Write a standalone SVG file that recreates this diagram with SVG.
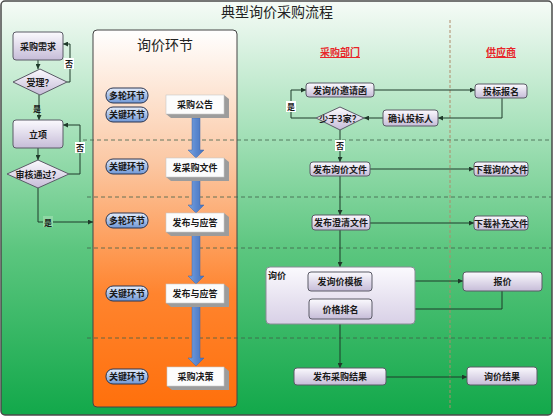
<svg xmlns="http://www.w3.org/2000/svg" width="554" height="418" viewBox="0 0 554 418">
<defs>
  <linearGradient id="bg" x1="0" y1="0" x2="0" y2="1">
    <stop offset="0" stop-color="#f6fbf7"/>
    <stop offset="0.3" stop-color="#a9e2bc"/>
    <stop offset="0.6" stop-color="#5cc67f"/>
    <stop offset="1" stop-color="#12a84a"/>
  </linearGradient>
  <linearGradient id="og" x1="0" y1="0" x2="0" y2="1">
    <stop offset="0" stop-color="#ffffff"/>
    <stop offset="0.35" stop-color="#fbc8a4"/>
    <stop offset="0.7" stop-color="#ff842e"/>
    <stop offset="1" stop-color="#ff700c"/>
  </linearGradient>
  <linearGradient id="pg" x1="0" y1="0" x2="0" y2="1">
    <stop offset="0" stop-color="#fbfafe"/>
    <stop offset="1" stop-color="#c6bcd8"/>
  </linearGradient>
  <linearGradient id="gg" x1="0" y1="0" x2="0" y2="1">
    <stop offset="0" stop-color="#fbfafe"/>
    <stop offset="1" stop-color="#d8d0e6"/>
  </linearGradient>
  <linearGradient id="bl" x1="0" y1="0" x2="0" y2="1">
    <stop offset="0" stop-color="#e4ecfa"/>
    <stop offset="1" stop-color="#6f97d6"/>
  </linearGradient>
  <linearGradient id="ba" x1="0" y1="0" x2="1" y2="0">
    <stop offset="0" stop-color="#7aa4e0"/>
    <stop offset="0.5" stop-color="#5b88cf"/>
    <stop offset="1" stop-color="#4672bd"/>
  </linearGradient>
  <marker id="ar" viewBox="0 0 6 6" refX="6" refY="3" markerWidth="5" markerHeight="5" orient="auto">
    <path d="M0,0 L6,3 L0,6 z" fill="#1f3a2a"/>
  </marker>
  <style>
    .node rect, .node polygon.d { fill: url(#pg); stroke: #5a5a66; stroke-width: 1; }
    .t { font-family: "Noto Sans CJK SC", "Liberation Sans", sans-serif; font-weight: bold; font-size: 9px; fill: #1a1a1a; text-anchor: middle; dominant-baseline: central; }
    .pill rect { fill: url(#bl); stroke: #2a3550; stroke-width: 1; }
    .box3 .f { fill: #fcfcfc; stroke: #c8c8c8; stroke-width: 0.6; }
    .box3 .s { fill: #9c9c9c; }
    .c { fill: none; stroke: #1f3a2a; stroke-width: 1; }
    .ca { fill: none; stroke: #1f3a2a; stroke-width: 1; marker-end: url(#ar); }
    .dash { stroke: #3f5f4a; stroke-width: 0.8; stroke-dasharray: 4 3; }
    .lbl { font-family: "Noto Sans CJK SC", sans-serif; font-weight: bold; font-size: 8px; fill: #1a1a1a; text-anchor: middle; dominant-baseline: central; }
    .hd { font-family: "Noto Sans CJK SC", sans-serif; font-weight: bold; font-size: 10px; fill: #e8262a; text-anchor: middle; text-decoration: underline; }
  </style>
</defs>

<rect x="1" y="1" width="551" height="414" rx="4" fill="url(#bg)" stroke="#4a4a4a" stroke-width="1.5"/>
<text x="277" y="17" font-family="Noto Sans CJK SC, serif" font-size="14" fill="#222" text-anchor="middle">典型询价采购流程</text>

<!-- orange section -->
<g id="section-inquiry">
  <rect x="93" y="30" width="144" height="377" rx="4" fill="url(#og)" stroke="#444" stroke-width="1"/>
  <text x="165" y="50" font-family="Noto Sans CJK SC, sans-serif" font-size="14" fill="#222" text-anchor="middle">询价环节</text>
</g>

<!-- dashed lines -->
<g id="lanes">
  <line class="dash" x1="83" y1="140" x2="552" y2="140"/>
  <line class="dash" x1="87" y1="197" x2="552" y2="197"/>
  <line class="dash" x1="87" y1="248" x2="552" y2="248"/>
  <line class="dash" x1="87" y1="338" x2="552" y2="338"/>
  <line x1="450" y1="20" x2="450" y2="410" stroke="#b08a6a" stroke-width="1" stroke-dasharray="3 2"/>
  <text class="hd" x="340" y="56">采购部门</text>
  <text class="hd" x="501" y="56">供应商</text>
</g>

<!-- blue arrows -->
<g id="flow-arrows" fill="url(#ba)" stroke="#3e66a8" stroke-width="0.5">
  <path d="M192,118 L200,118 L200,150 L204,150 L196,158 L188,150 L192,150 z"/>
  <path d="M192,177 L200,177 L200,205 L204,205 L196,213 L188,205 L192,205 z"/>
  <path d="M192,232 L200,232 L200,276 L204,276 L196,284 L188,276 L192,276 z"/>
  <path d="M192,303 L200,303 L200,358 L204,358 L196,366 L188,358 L192,358 z"/>
</g>

<!-- pills -->
<g id="pill1" class="pill"><rect x="106" y="88" width="42" height="15" rx="7"/><text class="t" x="127" y="95.5" font-size="8.5">多轮环节</text></g>
<g id="pill2" class="pill"><rect x="106" y="107" width="42" height="15" rx="7"/><text class="t" x="127" y="114.5" font-size="8.5">关键环节</text></g>
<g id="pill3" class="pill"><rect x="106" y="159" width="42" height="15" rx="7"/><text class="t" x="127" y="166.5" font-size="8.5">关键环节</text></g>
<g id="pill4" class="pill"><rect x="106" y="213" width="42" height="15" rx="7"/><text class="t" x="127" y="220.5" font-size="8.5">多轮环节</text></g>
<g id="pill5" class="pill"><rect x="106" y="286" width="42" height="15" rx="7"/><text class="t" x="127" y="293.5" font-size="8.5">关键环节</text></g>
<g id="pill6" class="pill"><rect x="106" y="369" width="42" height="15" rx="7"/><text class="t" x="127" y="376.5" font-size="8.5">关键环节</text></g>

<!-- 3D boxes -->
<g id="b-announce" class="box3"><path class="s" d="M224,95 L229,99 L229,118 L171,118 L166,114 L224,114 z"/><rect class="f" x="166" y="95" width="58" height="19"/><text class="t" x="195" y="104.5" font-weight="normal">采购公告</text></g>
<g id="b-docs" class="box3"><path class="s" d="M224,158 L229,162 L229,181 L171,181 L166,177 L224,177 z"/><rect class="f" x="166" y="158" width="58" height="19"/><text class="t" x="195" y="167.5" font-weight="normal">发采购文件</text></g>
<g id="b-resp1" class="box3"><path class="s" d="M224,213 L229,217 L229,236 L171,236 L166,232 L224,232 z"/><rect class="f" x="166" y="213" width="58" height="19"/><text class="t" x="195" y="222.5" font-weight="normal">发布与应答</text></g>
<g id="b-resp2" class="box3"><path class="s" d="M224,284 L229,288 L229,307 L171,307 L166,303 L224,303 z"/><rect class="f" x="166" y="284" width="58" height="19"/><text class="t" x="195" y="293.5" font-weight="normal">发布与应答</text></g>
<g id="b-decide" class="box3"><path class="s" d="M224,367 L229,371 L229,390 L172,390 L167,386 L224,386 z"/><rect class="f" x="167" y="367" width="57" height="19"/><text class="t" x="195.5" y="376.5" font-weight="normal">采购决策</text></g>

<!-- connectors -->
<g id="connectors">
  <line class="ca" x1="38" y1="60" x2="38" y2="69"/>
  <line class="ca" x1="39" y1="95" x2="39" y2="120"/>
  <polyline class="ca" points="67,82 70,82 70,44 63,44"/>
  <line class="ca" x1="38" y1="148" x2="38" y2="160"/>
  <polyline class="ca" points="69,174 80,174 80,125 63,125"/>
  <polyline class="ca" points="38,188 38,222 93,222"/>

  <line class="ca" x1="374" y1="90" x2="475" y2="90"/>
  <polyline class="ca" points="502,98 502,118 438,118"/>
  <line class="ca" x1="383" y1="118" x2="364" y2="118"/>
  <polyline class="ca" points="316,118 291,118 291,90 306,90"/>
  <line class="ca" x1="340" y1="130" x2="340" y2="162"/>
  <line class="ca" x1="370" y1="169" x2="474" y2="169"/>
  <line class="ca" x1="340" y1="176" x2="340" y2="215"/>
  <line class="ca" x1="370" y1="223" x2="474" y2="223"/>
  <line class="ca" x1="340" y1="230" x2="340" y2="267"/>
  <line class="ca" x1="372" y1="281" x2="463" y2="281"/>
  <polyline class="ca" points="502,291 502,309 372,309"/>
  <line class="ca" x1="340" y1="324" x2="340" y2="368"/>
  <line class="ca" x1="386" y1="377" x2="467" y2="377"/>

  <rect x="64" y="58" width="10" height="11" fill="#fff"/>
  <text class="lbl" x="69" y="63.5">否</text>
  <rect x="32" y="102" width="11" height="12" fill="#ffffff" fill-opacity="0"/>
  <text class="lbl" x="37" y="108">是</text>
  <rect x="75" y="142" width="10" height="11" fill="#fff"/>
  <text class="lbl" x="80" y="147.5">否</text>
  <rect x="43" y="216" width="10" height="11" fill="#8fd8a5"/>
  <text class="lbl" x="48" y="222">是</text>
  <rect x="286" y="101" width="10" height="11" fill="#fff"/>
  <text class="lbl" x="291" y="106.5">是</text>
  <rect x="335" y="140" width="10" height="11" fill="#fff"/>
  <text class="lbl" x="340" y="145.5">否</text>
</g>

<!-- left flow nodes -->
<g id="n-demand" class="node"><rect x="13" y="32" width="50" height="28" rx="3"/><text class="t" x="38" y="46">采购需求</text></g>
<g id="n-accept" class="node"><polygon class="d" points="40,69 67,82 40,95 13,82"/><text class="t" x="40" y="82">受理？</text></g>
<g id="n-project" class="node"><rect x="13" y="120" width="50" height="28" rx="3"/><text class="t" x="38" y="134">立项</text></g>
<g id="n-review" class="node"><polygon class="d" points="38,160 69,174 38,188 7,174"/><text class="t" x="38" y="174">审核通过？</text></g>

<!-- right nodes -->
<g id="n-invite" class="node"><rect x="306" y="83" width="68" height="14" rx="3"/><text class="t" x="340" y="90">发询价邀请函</text></g>
<g id="n-signup" class="node"><rect x="475" y="84" width="52" height="14" rx="3"/><text class="t" x="501" y="91">投标报名</text></g>
<g id="n-confirm" class="node"><rect x="383" y="110" width="55" height="16" rx="3"/><text class="t" x="410.5" y="118">确认投标人</text></g>
<g id="n-less3" class="node"><polygon class="d" points="340,107 364,118 340,130 316,118"/><text class="t" x="340" y="118.5">少于3家？</text></g>
<g id="n-pubdoc" class="node"><rect x="310" y="162" width="60" height="14" rx="3"/><text class="t" x="340" y="169">发布询价文件</text></g>
<g id="n-dldoc" class="node"><rect x="474" y="162" width="54" height="14" rx="3"/><text class="t" x="501" y="169">下载询价文件</text></g>
<g id="n-clarify" class="node"><rect x="312" y="215" width="58" height="15" rx="3"/><text class="t" x="341" y="222.5">发布澄清文件</text></g>
<g id="n-dlsupp" class="node"><rect x="474" y="216" width="54" height="14" rx="3"/><text class="t" x="501" y="223">下载补充文件</text></g>
<g id="g-inquiry">
  <rect x="266" y="267" width="149" height="57" rx="4" fill="url(#gg)" stroke="#8a8a96" stroke-width="1"/>
  <text class="t" x="277" y="275">询价</text>
</g>
<g id="n-template" class="node"><rect x="308" y="272" width="64" height="19" rx="3"/><text class="t" x="340" y="281.5">发询价模板</text></g>
<g id="n-rank" class="node"><rect x="309" y="299" width="63" height="20" rx="3"/><text class="t" x="340.5" y="309">价格排名</text></g>
<g id="n-quote" class="node"><rect x="463" y="272" width="79" height="19" rx="3"/><text class="t" x="502.5" y="281.5">报价</text></g>
<g id="n-result" class="node"><rect x="294" y="368" width="92" height="17" rx="3"/><text class="t" x="340" y="376.5">发布采购结果</text></g>
<g id="n-inqresult" class="node"><rect x="467" y="367" width="70" height="18" rx="3"/><text class="t" x="502" y="376">询价结果</text></g>
</svg>
